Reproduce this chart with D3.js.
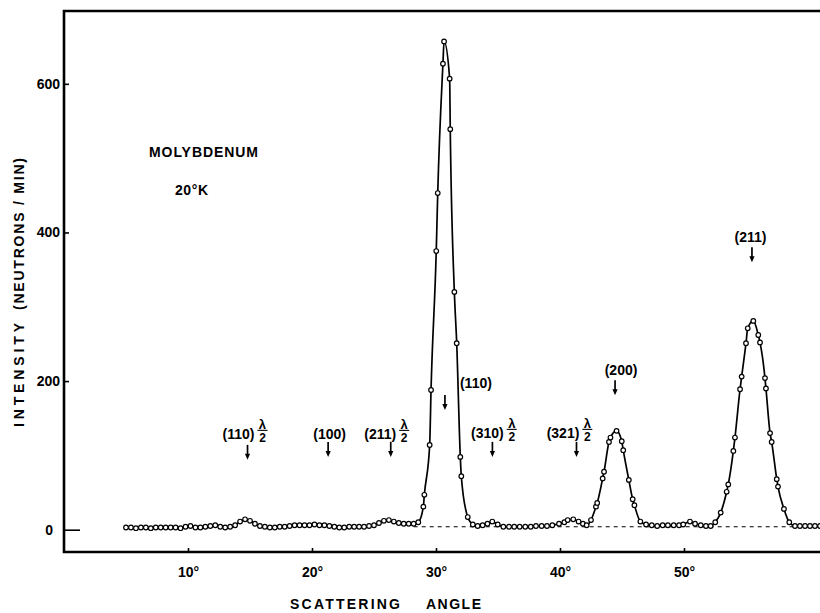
<!DOCTYPE html>
<html>
<head>
<meta charset="utf-8">
<script src="https://cdn.jsdelivr.net/npm/d3@7"></script>
<style>
  body { margin: 0; background: #fff; }
  svg { display: block; font-family: "Liberation Sans", Arial, sans-serif; font-weight: bold; }
</style>
</head>
<body>
<div id="chart"></div>
<script>
// scattering angle (deg) and intensity (neutrons / min)
const angles = [
  // low-angle background
  5.0, 5.4, 5.8, 6.2, 6.6, 7.0, 7.4, 7.8, 8.2, 8.6,
  9.0, 9.4, 9.8, 10.2, 10.6, 11.0, 11.4, 11.8, 12.2, 12.6,
  13.0, 13.4, 13.8, 14.2, 14.6, 15.0, 15.4, 15.8, 16.2, 16.6,
  17.0, 17.4, 17.8, 18.2, 18.6, 19.0, 19.4, 19.8, 20.2, 20.6,
  21.0, 21.4, 21.8, 22.2, 22.6, 23.0, 23.4, 23.8, 24.2, 24.6,
  25.0, 25.4, 25.8, 26.2, 26.6, 27.0, 27.4, 27.8, 28.2,
  // (110)
  28.57, 28.98, 29.06, 29.49, 29.60, 30.02, 30.14, 30.56, 30.65, 31.10,
  31.15, 31.48, 31.67, 31.96, 32.04, 32.56, 32.97,
  // between (110) and (200)
  33.36, 33.76, 34.15, 34.54, 34.98, 35.43, 35.89, 36.31, 36.75, 37.20,
  37.64, 38.06, 38.52, 38.95, 39.38, 39.92, 40.35, 40.62, 41.07, 41.50,
  41.85, 42.15,
  // (200)
  42.50, 42.90, 43.00, 43.44, 43.55, 43.95, 44.07, 44.56, 44.98, 45.10,
  45.55, 45.86, 46.00, 46.48, 46.94,
  // between (200) and (211)
  47.40, 47.84, 48.28, 48.70, 49.17, 49.60, 49.94, 50.48, 50.89, 51.35,
  51.77, 52.15, 52.52,
  // (211)
  52.96, 53.44, 53.57, 53.98, 54.11, 54.52, 54.65, 55.00, 55.14, 55.59,
  55.99, 56.13, 56.53, 56.61, 56.94, 57.07, 57.48, 57.58, 58.06, 58.49,
  58.95, 59.35, 59.76, 60.16, 60.56, 60.97
];
const counts = [
  3, 3, 2, 3, 3, 2, 3, 3, 3, 3,
  3, 2, 4, 5, 3, 3, 4, 5, 6, 4,
  3, 4, 6, 11, 14, 12, 8, 5, 4, 3,
  3, 4, 4, 5, 6, 6, 6, 6, 7, 6,
  6, 5, 4, 3, 3, 4, 4, 4, 4, 5,
  6, 9, 12, 13, 11, 9, 8, 8, 8,
  10, 31, 47, 114, 188, 375, 453, 627, 657, 607,
  539, 320, 251, 98, 72, 17, 7,
  5, 6, 8, 11, 7, 4, 4, 4, 4, 4,
  4, 5, 5, 5, 6, 8, 10, 13, 14, 11,
  8, 6,
  13, 31, 36, 69, 78, 118, 124, 133, 119, 107,
  67, 41, 33, 11, 7,
  6, 5, 6, 6, 6, 6, 7, 11, 8, 6,
  5, 5, 10,
  23, 51, 61, 106, 124, 189, 206, 251, 271, 281,
  262, 252, 204, 190, 130, 118, 68, 58, 28, 10,
  5, 5, 5, 5, 5, 5
];

const backgroundLevel = 4;
const backgroundRange = [28.2, 61];

const yTicks = [0, 200, 400, 600];
const xTicks = [10, 20, 30, 40, 50];

// reflections marked on the plot
const hklLabels = ['(110)', '(100)', '(211)', '(110)', '(310)', '(321)', '(200)', '(211)'];
const halfLambda = [true, false, true, false, true, true, false, false];
const hklAngles = [14.8, 21.3, 26.35, 30.72, 34.55, 41.33, 44.44, 55.48];
const arrowTips = [94, 98, 98, 161, 98, 98, 181, 360];

const width = 820;
const height = 613;

const svg = d3.select('#chart').append('svg')
  .attr('width', width)
  .attr('height', height);

const x = d3.scaleLinear().domain([0, 61]).range([64, 820.4]);
const y = d3.scaleLinear().domain([-30, 698]).range([552, 11]);

// frame (open on the right)
svg.append('path')
  .attr('d', 'M820,11H64V552H820')
  .attr('fill', 'none')
  .attr('stroke', '#000')
  .attr('stroke-width', 2.6);

// y axis
const yAxis = svg.append('g')
  .attr('transform', 'translate(64,0)')
  .call(d3.axisLeft(y).tickValues(yTicks).tickSize(-5).tickPadding(4));
yAxis.select('.domain').remove();
yAxis.attr('font-family', null).attr('font-size', 14);
yAxis.selectAll('line').attr('stroke-width', 1.6);
yAxis.selectAll('text').attr('fill', '#000');
yAxis.selectAll('.tick').filter((d) => d === 0)
  .call((t) => t.select('line').attr('x2', 16))
  .call((t) => t.select('text').attr('x', -11));

// x axis
const xAxis = svg.append('g')
  .attr('transform', 'translate(0,552)')
  .call(d3.axisBottom(x).tickValues(xTicks).tickSize(-4).tickFormat((d) => d + '°'));
xAxis.select('.domain').remove();
xAxis.attr('font-family', null).attr('font-size', 14);
xAxis.selectAll('line').attr('stroke-width', 1.6);
xAxis.selectAll('text').attr('fill', '#000').attr('y', 25).attr('dy', 0);

// axis titles
svg.append('text').attr('x', 290).attr('y', 609).attr('font-size', 14)
  .attr('textLength', 110).text('SCATTERING');
svg.append('text').attr('x', 426).attr('y', 609).attr('font-size', 14)
  .attr('textLength', 55).text('ANGLE');

svg.append('text').attr('transform', 'translate(23.5,427) rotate(-90)')
  .attr('font-size', 14).attr('textLength', 104).text('INTENSITY');
svg.append('text').attr('transform', 'translate(23.5,310) rotate(-90)')
  .attr('font-size', 14).attr('textLength', 152).text('(NEUTRONS / MIN)');

svg.append('text').attr('x', 149).attr('y', 157).attr('font-size', 14)
  .attr('textLength', 109).text('MOLYBDENUM');
svg.append('text').attr('x', 175).attr('y', 195).attr('font-size', 14)
  .attr('textLength', 33).text('20°K');

// background level
svg.append('line')
  .attr('x1', x(backgroundRange[0]))
  .attr('x2', x(backgroundRange[1]))
  .attr('y1', y(backgroundLevel))
  .attr('y2', y(backgroundLevel))
  .attr('stroke', '#000')
  .attr('stroke-width', 1.2)
  .attr('stroke-dasharray', '4,4');

// data
const points = angles.map((a, i) => [a, counts[i]]);

const line = d3.line()
  .x((d) => x(d[0]))
  .y((d) => y(d[1]))
  .curve(d3.curveMonotoneX);

svg.append('path')
  .datum(points)
  .attr('d', line)
  .attr('fill', 'none')
  .attr('stroke', '#000')
  .attr('stroke-width', 1.7);

svg.append('g')
  .selectAll('circle')
  .data(points)
  .enter()
  .append('circle')
  .attr('cx', (d) => x(d[0]))
  .attr('cy', (d) => y(d[1]))
  .attr('r', 2.3)
  .attr('fill', '#fff')
  .attr('stroke', '#000')
  .attr('stroke-width', 1.2);

// reflection labels and arrows
// text left edge relative to arrow, baseline relative to arrow tip, measured width
const labelDx = [-24, -16, -23, 17, -19.5, -28, -16, -17];
const labelDy = [-21, -18, -18, -22, -19, -19, -20, -20];
const labelW = [30, 35, 25, 28, 29, 29, 44, 31];

const marks = svg.append('g');
hklLabels.forEach((lab, i) => {
  const ax = x(hklAngles[i]);
  const tip = y(arrowTips[i]);
  const g = marks.append('g');

  g.append('path')
    .attr('d', `M${ax},${tip - 15}V${tip - 5}`)
    .attr('stroke', '#000')
    .attr('stroke-width', 1.7);
  g.append('path')
    .attr('d', `M${ax - 2.6},${tip - 6}L${ax + 2.6},${tip - 6}L${ax},${tip}Z`)
    .attr('fill', '#000');

  const cx = ax + labelDx[i] + labelW[i] / 2;
  const ty = tip + labelDy[i];
  const t = g.append('text')
    .attr('x', cx)
    .attr('y', ty)
    .attr('text-anchor', 'middle')
    .attr('font-size', 14)
    .text(lab);

  if (halfLambda[i]) {
    const fx = cx + t.node().getComputedTextLength() / 2 + 8;
    g.append('text').attr('x', fx).attr('y', ty - 10)
      .attr('text-anchor', 'middle').attr('font-size', 13).text('λ');
    g.append('line')
      .attr('x1', fx - 5).attr('x2', fx + 5)
      .attr('y1', ty - 8.5).attr('y2', ty - 8.5)
      .attr('stroke', '#000').attr('stroke-width', 1.1);
    g.append('text').attr('x', fx).attr('y', ty + 3)
      .attr('text-anchor', 'middle').attr('font-size', 12).text('2');
  }
});
</script>
</body>
</html>
